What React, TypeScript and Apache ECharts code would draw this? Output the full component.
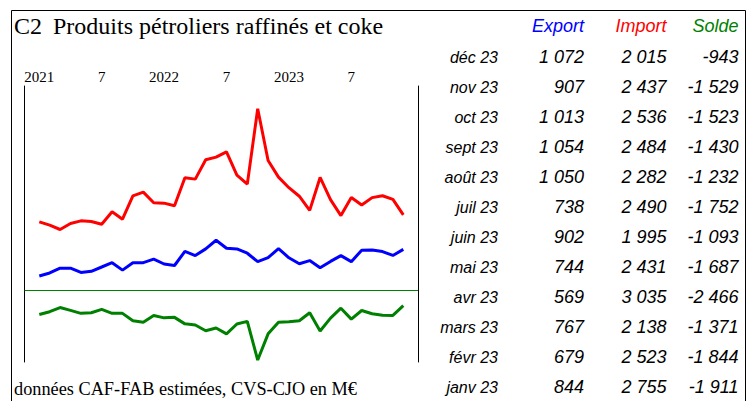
import React, { useEffect, useRef } from "react";
import * as echarts from "echarts";

// x axis tick positions (month index from Jan 2021) and labels
const xTickIndex = [0, 6, 12, 18, 24, 30];
const xTickLabels = ["2021", "7", "2022", "7", "2023", "7"];

// monthly series Jan 2021 .. Dec 2023 (M€)
const exportValues = [
  348, 429, 561, 561, 443, 475, 592, 710, 506, 710, 710, 805,
  674, 633, 1018, 905, 1086, 1321, 1104, 1086, 968, 737, 846, 1095,
  844, 679, 767, 569, 744, 902, 738, 1050, 1054, 1013, 907, 1072,
];
const importValues = [
  1824, 1733, 1615, 1778, 1851, 1833, 1760, 2097, 1897, 2534, 2634, 2343,
  2334, 2261, 3025, 2989, 3517, 3589, 3735, 3098, 2852, 4909, 3498, 3043,
  2755, 2523, 2138, 3035, 2431, 1995, 2490, 2282, 2484, 2536, 2437, 2015,
];
const soldeValues = [
  -1474, -1304, -1053, -1224, -1404, -1364, -1163, -1404, -1404, -1845, -1935, -1534,
  -1674, -1644, -2035, -2105, -2446, -2286, -2636, -2045, -1885, -4210, -2636, -1935,
  -1911, -1844, -1371, -2466, -1687, -1093, -1752, -1232, -1430, -1523, -1529, -943,
];

// table (2023)
const tableMonths = ["janv 23", "févr 23", "mars 23", "avr 23", "mai 23", "juin 23", "juil 23", "août 23", "sept 23", "oct 23", "nov 23", "déc 23"];
const tableExport = [844, 679, 767, 569, 744, 902, 738, 1050, 1054, 1013, 907, 1072];
const tableImport = [2755, 2523, 2138, 3035, 2431, 1995, 2490, 2282, 2484, 2536, 2437, 2015];
const tableSolde = [-1911, -1844, -1371, -2466, -1687, -1093, -1752, -1232, -1430, -1523, -1529, -943];
const tableHeaders = ["Export", "Import", "Solde"];

const BLUE = "#0000ff";
const RED = "#ff0000";
const GREEN = "#008000";

function fmt(v: number): string {
  const s = Math.abs(v).toString();
  const parts: string[] = [];
  for (let i = s.length; i > 0; i -= 3) parts.unshift(s.slice(Math.max(0, i - 3), i));
  return (v < 0 ? "-" : "") + parts.join(" ");
}

export default function App() {
  const ref = useRef<HTMLDivElement>(null);
  useEffect(() => {
    if (!ref.current) return;
    const chart = echarts.init(ref.current, undefined, { renderer: "svg" });

    const tableFont = "'Liberation Sans', Arial, sans-serif";
    const graphics: any[] = [
      {
        type: "rect",
        shape: { x: 11.5, y: 10.5, width: 734, height: 420 },
        style: { fill: "none", stroke: "#000", lineWidth: 1 },
        silent: true,
      },
      {
        type: "text",
        x: 14,
        y: 26,
        style: { text: "C2", font: "24px 'Liberation Serif', serif", fill: "#000", verticalAlign: "middle" },
      },
      {
        type: "text",
        x: 53,
        y: 26,
        style: { text: "Produits pétroliers raffinés et coke", font: "24px 'Liberation Serif', serif", fill: "#000", verticalAlign: "middle" },
      },
      {
        type: "text",
        x: 14,
        y: 389,
        style: { text: "données CAF-FAB estimées, CVS-CJO en M€", font: "18.3px 'Liberation Serif', serif", fill: "#000", verticalAlign: "middle" },
      },
    ];
    const colX = [584, 666.5, 738.5];
    const colColors = [BLUE, RED, GREEN];
    tableHeaders.forEach((h, j) => {
      graphics.push({
        type: "text",
        x: colX[j],
        y: 26,
        style: { text: h, font: `italic 18px ${tableFont}`, fill: colColors[j], align: "right", verticalAlign: "middle" },
      });
    });
    const n = tableMonths.length;
    for (let r = 0; r < n; r++) {
      const k = n - 1 - r;
      const y = 57 + 30 * r;
      graphics.push({
        type: "text",
        x: 498,
        y,
        style: { text: tableMonths[k], font: `italic 16px ${tableFont}`, fill: "#000", align: "right", verticalAlign: "middle" },
      });
      const vals = [tableExport[k], tableImport[k], tableSolde[k]];
      vals.forEach((v, j) => {
        graphics.push({
          type: "text",
          x: colX[j],
          y,
          style: { text: fmt(v), font: `italic 18px ${tableFont}`, fill: "#000", align: "right", verticalAlign: "middle" },
        });
      });
    }

    const toPts = (arr: number[]) => arr.map((v, i) => [i, v]);

    chart.setOption({
      animation: false,
      grid: { left: 24.5, right: 749 - 418, top: 86, bottom: 401 - 362, containLabel: false },
      xAxis: {
        type: "value",
        position: "top",
        min: -1.423,
        max: 36.413,
        axisLine: { show: false, onZero: false },
        axisTick: { show: false },
        splitLine: { show: false },
        axisLabel: {
          customValues: xTickIndex,
          formatter: (v: number) => {
            const i = xTickIndex.indexOf(Math.round(v));
            return i >= 0 ? xTickLabels[i] : "";
          },
          fontFamily: "'Liberation Serif', serif",
          fontSize: 15,
          color: "#000",
          margin: 2,
        },
      },
      yAxis: [
        {
          type: "value",
          position: "left",
          min: -2000,
          max: 5530,
          axisLine: { show: true, onZero: false, lineStyle: { color: "#000", width: 1 } },
          axisTick: { show: false },
          axisLabel: { show: false },
          splitLine: { show: false },
        },
        {
          type: "value",
          position: "right",
          min: -4327,
          max: 12260,
          axisLine: { show: true, onZero: false, lineStyle: { color: "#000", width: 1 } },
          axisTick: { show: false },
          axisLabel: { show: false },
          splitLine: { show: false },
        },
      ],
      series: [
        {
          name: "Solde",
          type: "line",
          yAxisIndex: 1,
          data: toPts(soldeValues),
          symbol: "none",
          lineStyle: { color: GREEN, width: 3 },
          markLine: {
            silent: true,
            symbol: ["none", "none"],
            label: { show: false },
            lineStyle: { color: GREEN, width: 1, type: "solid" },
            data: [{ yAxis: 0 }],
          },
        },
        {
          name: "Export",
          type: "line",
          yAxisIndex: 0,
          data: toPts(exportValues),
          symbol: "none",
          lineStyle: { color: BLUE, width: 3 },
        },
        {
          name: "Import",
          type: "line",
          yAxisIndex: 0,
          data: toPts(importValues),
          symbol: "none",
          lineStyle: { color: RED, width: 3 },
        },
      ],
      graphic: graphics,
    });
    return () => chart.dispose();
  }, []);
  return (
    <div
      ref={ref}
      style={{ position: "fixed", left: 0, top: 0, width: 749, height: 401, background: "#fff" }}
    />
  );
}
